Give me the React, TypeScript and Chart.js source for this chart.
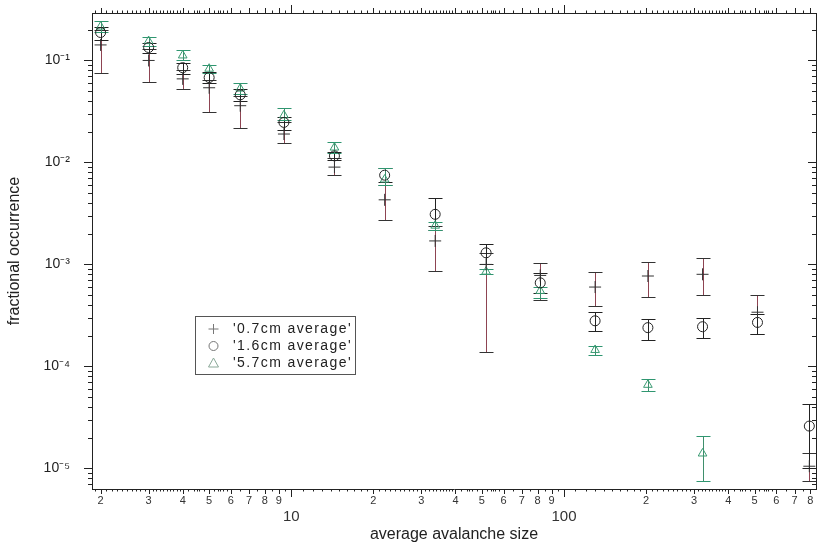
import React, { useEffect, useRef } from 'react';
import { Chart, registerables } from 'chart.js';
Chart.register(...registerables);

// ---- data ----
const seriesNames = ["'0.7cm average'", "'1.6cm average'", "'5.7cm average'"];

const sizes07 = [2, 3, 4, 5, 6.5, 9.4, 14.4, 22, 33.7, 51.8, 81.8, 130, 203, 322, 512, 793];
const occ07 = [0.142, 0.1, 0.066, 0.054, 0.036, 0.019, 0.009, 0.0043, 0.0017, 0.001, 0.00078, 0.0006, 0.00077, 0.0008, 0.00034, 1.05e-5];
const lo07 = [0.076, 0.062, 0.053, 0.031, 0.022, 0.0155, 0.0075, 0.0027, 0.00086, 0.00014, 0.00045, 0.00039, 0.00048, 0.0005, 0.00021, 7.6e-6];
const hi07 = [0.2, 0.13, 0.08, 0.065, 0.045, 0.025, 0.011, 0.006, 0.0024, 0.0013, 0.00103, 0.00084, 0.00105, 0.00115, 0.0005, 1.4e-5];

const sizes16 = [2, 3, 4, 5, 6.5, 9.4, 14.4, 22, 33.7, 51.8, 81.8, 130, 203, 322, 512, 793];
const occ16 = [0.188, 0.134, 0.085, 0.068, 0.046, 0.0247, 0.0116, 0.0075, 0.0031, 0.0013, 0.00066, 0.00028, 0.00024, 0.000245, 0.00027, 2.6e-5];
const lo16 = [0.16, 0.118, 0.074, 0.06, 0.04, 0.021, 0.0105, 0.0064, 0.0022, 0.001, 0.00052, 0.00022, 0.00018, 0.00019, 0.00021, 1e-5];
const hi16 = [0.215, 0.15, 0.095, 0.077, 0.052, 0.028, 0.0128, 0.0088, 0.0045, 0.0016, 0.00082, 0.00034, 0.00029, 0.0003, 0.00033, 4.3e-5];

const sizes57 = [2, 3, 4, 5, 6.5, 9.4, 14.4, 22, 33.7, 51.8, 81.8, 130, 203, 322];
const occ57 = [0.215, 0.155, 0.112, 0.083, 0.053, 0.029, 0.014, 0.0068, 0.0024, 0.00085, 0.00055, 0.000145, 6.6e-5, 1.4e-5];
const lo57 = [0.19, 0.14, 0.1, 0.076, 0.047, 0.026, 0.0125, 0.006, 0.0022, 0.0008, 0.00047, 0.00013, 5.7e-5, 7.6e-6];
const hi57 = [0.245, 0.168, 0.127, 0.09, 0.06, 0.034, 0.016, 0.0088, 0.0026, 0.0009, 0.0006, 0.00016, 7.6e-5, 2.1e-5];

const xTickValues = [2, 3, 4, 5, 6, 7, 8, 9, 10, 20, 30, 40, 50, 60, 70, 80, 90, 100, 200, 300, 400, 500, 600, 700, 800];
const xTickLabels = ['2', '3', '4', '5', '6', '7', '8', '9', '10', '2', '3', '4', '5', '6', '7', '8', '9', '100', '2', '3', '4', '5', '6', '7', '8'];
const yTickValues = [1e-5, 1e-4, 1e-3, 1e-2, 1e-1];
const yTickLabels = ['10\u207B\u2075', '10\u207B\u2074', '10\u207B\u00B3', '10\u207B\u00B2', '10\u207B\u00B9'];

const X_MIN = 1.86;
const X_MAX = 839;
const Y_MIN = 6.28e-6;
const Y_MAX = 0.292;

const FONT = "'Liberation Sans', Arial, sans-serif";

export default function App() {
  const ref = useRef<HTMLCanvasElement>(null);

  useEffect(() => {
    document.body.style.margin = '0';
    const canvas = ref.current;
    if (!canvas) return;

    const errStyles = [
      { lo: lo07, hi: hi07, stem: '#8e4452', cap: '#333333' },
      { lo: lo16, hi: hi16, stem: '#222222', cap: '#222222' },
      { lo: lo57, hi: hi57, stem: '#3f8f6c', cap: '#2f9670' },
    ];

    const errPlugin = {
      id: 'errbars',
      beforeDatasetsDraw(chart: any) {
        const { ctx, chartArea } = chart;
        const xs = chart.scales.x;
        const ys = chart.scales.y;
        ctx.save();
        ctx.beginPath();
        ctx.rect(chartArea.left, chartArea.top, chartArea.right - chartArea.left, chartArea.bottom - chartArea.top);
        ctx.clip();
        chart.data.datasets.forEach((ds: any, i: number) => {
          const eb = errStyles[i];
          ds.data.forEach((pt: any, j: number) => {
            const px = Math.round(xs.getPixelForValue(pt.x)) + 0.5;
            const yl = Math.round(ys.getPixelForValue(eb.lo[j])) + 0.5;
            const yh = Math.round(ys.getPixelForValue(eb.hi[j])) + 0.5;
            ctx.lineWidth = 1;
            ctx.strokeStyle = eb.stem;
            ctx.beginPath();
            ctx.moveTo(px, yl);
            ctx.lineTo(px, yh);
            ctx.stroke();
            ctx.strokeStyle = eb.cap;
            ctx.beginPath();
            ctx.moveTo(px - 7, yl);
            ctx.lineTo(px + 7, yl);
            ctx.moveTo(px - 7, yh);
            ctx.lineTo(px + 7, yh);
            ctx.stroke();
          });
        });
        ctx.restore();
      },
    };

    const tickPlugin = {
      id: 'tickmarks',
      afterDraw(chart: any) {
        const { ctx, chartArea } = chart;
        const { left, right, top, bottom } = chartArea;
        const xs = chart.scales.x;
        const ys = chart.scales.y;
        ctx.save();
        ctx.strokeStyle = '#222';
        ctx.lineWidth = 1;
        ctx.beginPath();
        for (const dec of [1, 10, 100]) {
          for (let k = 10; k < 100; k++) {
            const inc = k < 40 || (k < 60 && k % 2 === 0) || k % 5 === 0;
            if (!inc) continue;
            const v = (k / 10) * dec;
            if (v < X_MIN || v > X_MAX) continue;
            const px = Math.round(xs.getPixelForValue(v)) + 0.5;
            const len = k === 10 ? 8 : k % 10 === 0 ? 5 : 2.5;
            ctx.moveTo(px, bottom);
            ctx.lineTo(px, bottom + len);
            ctx.moveTo(px, top);
            ctx.lineTo(px, top - len);
          }
        }
        for (let e = -6; e <= -1; e++) {
          for (let m = 1; m <= 9; m++) {
            const v = m * Math.pow(10, e);
            if (v < Y_MIN || v > Y_MAX) continue;
            const py = Math.round(ys.getPixelForValue(v)) + 0.5;
            const len = m === 1 ? 8 : 4;
            ctx.moveTo(left, py);
            ctx.lineTo(left - len, py);
            ctx.moveTo(right, py);
            ctx.lineTo(right - len, py);
          }
        }
        ctx.stroke();
        ctx.restore();
      },
    };

    const legendPlugin = {
      id: 'boxLegend',
      afterDraw(chart: any) {
        const { ctx } = chart;
        ctx.save();
        const bx = 195.5, by = 316.5, bw = 160, bh = 58;
        ctx.fillStyle = '#ffffff';
        ctx.fillRect(bx, by, bw, bh);
        ctx.strokeStyle = '#555';
        ctx.lineWidth = 1;
        ctx.strokeRect(bx, by, bw, bh);
        const rows = [329, 346, 363];
        const mx = 213.5;
        ctx.strokeStyle = '#777';
        ctx.beginPath();
        ctx.moveTo(mx - 5, rows[0]);
        ctx.lineTo(mx + 5, rows[0]);
        ctx.moveTo(mx, rows[0] - 5);
        ctx.lineTo(mx, rows[0] + 5);
        ctx.stroke();
        ctx.beginPath();
        ctx.arc(mx, rows[1], 4.5, 0, Math.PI * 2);
        ctx.stroke();
        ctx.strokeStyle = '#8aa898';
        ctx.beginPath();
        ctx.moveTo(mx, rows[2] - 5);
        ctx.lineTo(mx + 5, rows[2] + 4);
        ctx.lineTo(mx - 5, rows[2] + 4);
        ctx.closePath();
        ctx.stroke();
        ctx.fillStyle = '#222';
        ctx.font = '14px ' + FONT;
        try {
          (ctx as any).letterSpacing = '1.4px';
        } catch (e) {}
        ctx.textBaseline = 'middle';
        ctx.textAlign = 'left';
        seriesNames.forEach((n, i) => ctx.fillText(n, 233, rows[i]));
        ctx.restore();
      },
    };

    const chart = new Chart(canvas, {
      type: 'scatter',
      data: {
        datasets: [
          {
            label: seriesNames[0],
            data: sizes07.map((x, i) => ({ x, y: occ07[i] })),
            pointStyle: 'cross',
            pointRadius: 6,
            borderColor: '#333',
            backgroundColor: 'rgba(0,0,0,0)',
            borderWidth: 1,
            xAxisID: 'x',
            yAxisID: 'y',
          },
          {
            label: seriesNames[1],
            data: sizes16.map((x, i) => ({ x, y: occ16[i] })),
            pointStyle: 'circle',
            pointRadius: 5,
            borderColor: '#222',
            backgroundColor: 'rgba(0,0,0,0)',
            borderWidth: 1,
            xAxisID: 'x',
            yAxisID: 'y',
          },
          {
            label: seriesNames[2],
            data: sizes57.map((x, i) => ({ x, y: occ57[i] })),
            pointStyle: 'triangle',
            pointRadius: 5,
            borderColor: '#3a9a72',
            backgroundColor: 'rgba(0,0,0,0)',
            borderWidth: 1,
            xAxisID: 'x',
            yAxisID: 'y',
          },
        ],
      },
      options: {
        responsive: false,
        animation: false,
        layout: { padding: { left: 0, right: 0, top: 0, bottom: 0 } },
        plugins: {
          legend: { display: false },
          tooltip: { enabled: false },
        },
        scales: {
          x: {
            type: 'logarithmic',
            position: 'bottom',
            min: X_MIN,
            max: X_MAX,
            afterBuildTicks: (s: any) => {
              s.ticks = xTickValues.map((v) => ({ value: v }));
            },
            afterFit: (s: any) => {
              s.height = 55;
            },
            grid: { display: false, drawTicks: false },
            border: { display: true, color: '#222', width: 1 },
            ticks: {
              autoSkip: false,
              maxRotation: 0,
              minRotation: 0,
              padding: 5,
              color: '#333',
              font: (c: any) => {
                const v = c.tick ? c.tick.value : 0;
                return v === 10 || v === 100
                  ? { size: 15, lineHeight: 1, family: FONT }
                  : { size: 11, lineHeight: 1.2, family: FONT };
              },
              callback: (v: any, i: number) => {
                const lab = xTickLabels[i];
                return lab === '10' || lab === '100' ? ['', lab] : lab;
              },
            },
            title: {
              display: true,
              text: 'average avalanche size',
              color: '#222',
              font: { size: 16, family: FONT },
              padding: { top: 0, bottom: 0 },
            },
          },
          x2: {
            type: 'logarithmic',
            position: 'top',
            min: X_MIN,
            max: X_MAX,
            afterFit: (s: any) => {
              s.height = 13;
            },
            grid: { display: false, drawTicks: false },
            border: { display: true, color: '#222', width: 1 },
            ticks: { display: false },
          },
          y: {
            type: 'logarithmic',
            position: 'left',
            min: Y_MIN,
            max: Y_MAX,
            afterBuildTicks: (s: any) => {
              s.ticks = yTickValues.map((v) => ({ value: v }));
            },
            afterFit: (s: any) => {
              s.width = 92;
            },
            grid: {
              display: true,
              drawOnChartArea: false,
              drawTicks: true,
              tickLength: 20,
              tickColor: 'rgba(0,0,0,0)',
              color: 'rgba(0,0,0,0)',
            },
            border: { display: true, color: '#222', width: 1 },
            ticks: {
              autoSkip: false,
              padding: 2,
              color: '#222',
              font: { size: 14, family: FONT },
              callback: (v: any, i: number) => yTickLabels[i],
            },
            title: {
              display: true,
              text: 'fractional occurrence',
              color: '#222',
              font: { size: 16, family: FONT },
              padding: { top: 5, bottom: 0 },
            },
          },
          y2: {
            type: 'logarithmic',
            position: 'right',
            min: Y_MIN,
            max: Y_MAX,
            afterFit: (s: any) => {
              s.width = 1;
            },
            grid: { display: false, drawTicks: false },
            border: { display: true, color: '#222', width: 1 },
            ticks: { display: false },
          },
        },
      } as any,
      plugins: [errPlugin, tickPlugin, legendPlugin],
    });

    return () => chart.destroy();
  }, []);

  return (
    <div style={{ width: 823, height: 544, position: 'relative' }}>
      <canvas ref={ref} width={823} height={544} style={{ display: 'block' }} />
    </div>
  );
}
